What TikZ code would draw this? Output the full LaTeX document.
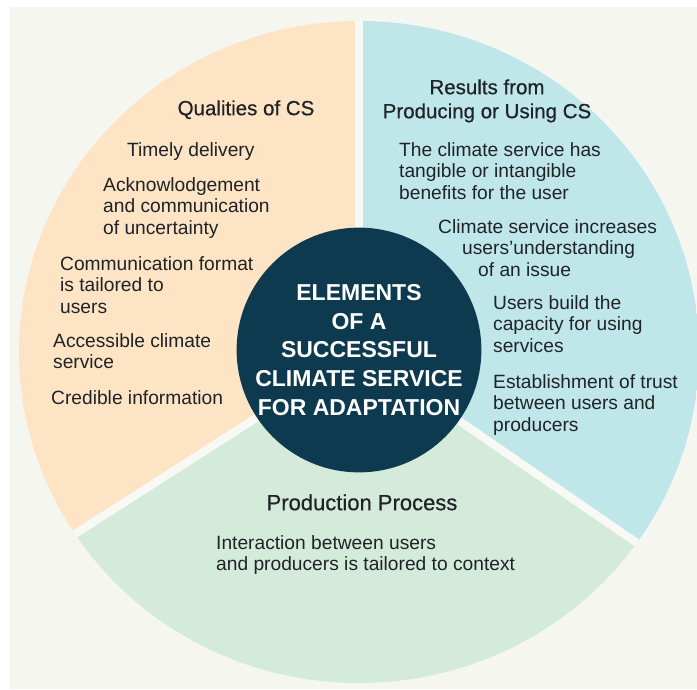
\documentclass[tikz,border=0pt]{standalone}
\usepackage{fontspec}
\setmainfont{Liberation Sans}
\newfontfamily\medfont{Liberation Sans}[FakeBold=0.6]
\usetikzlibrary{calc}
\definecolor{bgc}{HTML}{F6F6F1}
\definecolor{gapc}{HTML}{F8F9F5}
\definecolor{qualc}{HTML}{FDE4C5}
\definecolor{resc}{HTML}{BFE7EA}
\definecolor{prodc}{HTML}{D4EBDC}
\definecolor{navyc}{HTML}{0D3A4F}
\definecolor{ink}{HTML}{1F2326}
\newcommand\myrule[1]{\rule{0pt}{#1}}
\begin{document}
\begin{tikzpicture}[x=1pt,y=-1pt,
  body/.style={anchor=north west, inner sep=0pt, align=left, text=ink,
    font=\fontsize{19.2}{21.7}\selectfont},
  ttl/.style={anchor=north, inner sep=0pt, align=center, text=ink,
    font=\medfont\fontsize{20.5}{24}\selectfont},
  gap/.style={draw=gapc, line width=8pt},
  core/.style={circle, fill=navyc, minimum size=240pt, inner sep=0pt,
    align=center, text=white, font=\bfseries\fontsize{23}{28.7}\selectfont}]
\useasboundingbox (0,0) rectangle (697,689);
\fill[white] (0,0) rectangle (697,689);
\fill[bgc] (10,7) rectangle (697,689);
\coordinate (c) at (359,352);
\coordinate (tp) at (359,-50);
\coordinate (ll) at (75,534);
\coordinate (lr) at (637,543);
\coordinate (llx) at ($(c)!2!(ll)$);
\coordinate (lrx) at ($(c)!2!(lr)$);
\begin{scope}
  \clip (c) ellipse [x radius=340, y radius=331];
  \fill[qualc] (c) -- (tp) -- (-250,-50) -- (-250,760) -- (llx) -- cycle;
  \fill[resc] (c) -- (tp) -- (950,-50) -- (950,760) -- (lrx) -- cycle;
  \fill[prodc] (c) -- (llx) -- (-250,800) -- (950,800) -- (lrx) -- cycle;
  \draw[gap] (c) -- (tp);
  \draw[gap] (c) -- (llx);
  \draw[gap] (c) -- (lrx);
\end{scope}
\node[core] (core) at (359,350) {ELEMENTS\\OF A\\SUCCESSFUL\\CLIMATE SERVICE\\FOR ADAPTATION};
% Qualities of CS
\node[ttl] (qt) at (246,98) {\myrule{17pt}Qualities of CS};
\node[body] (q1) at (127,140) {\myrule{16pt}Timely delivery};
\node[body] (q2) at (103,175) {\myrule{16pt}Acknowlodgement\\and communication\\of uncertainty};
\node[body] (q3) at (60,254) {\myrule{16pt}Communication format\\is tailored to\\users};
\node[body] (q4) at (53,331) {\myrule{16pt}Accessible climate\\service};
\node[body] (q5) at (51,388) {\myrule{16pt}Credible information};
% Results
\node[ttl] (rt) at (487,77) {\myrule{17pt}Results from\\Producing or Using CS};
\node[body] (r1) at (399,140) {\myrule{16pt}The climate service has\\tangible or intangible\\benefits for the user};
\node[body] (r2) at (438,217) {\myrule{16pt}Climate service increases\\\hspace*{24pt}users’understanding\\\hspace*{40pt}of an issue};
\node[body] (r3) at (493,293) {\myrule{16pt}Users build the\\capacity for using\\services};
\node[body] (r4) at (493,372) {\myrule{16pt}Establishment of trust\\between users and\\producers};
% Production
\node[ttl, font=\medfont\fontsize{22}{26}\selectfont] (pt) at (362,492) {\myrule{18pt}Production Process};
\node[body] (p1) at (216,533) {\myrule{16pt}Interaction between users\\and producers is tailored to context};
\end{tikzpicture}
\end{document}
